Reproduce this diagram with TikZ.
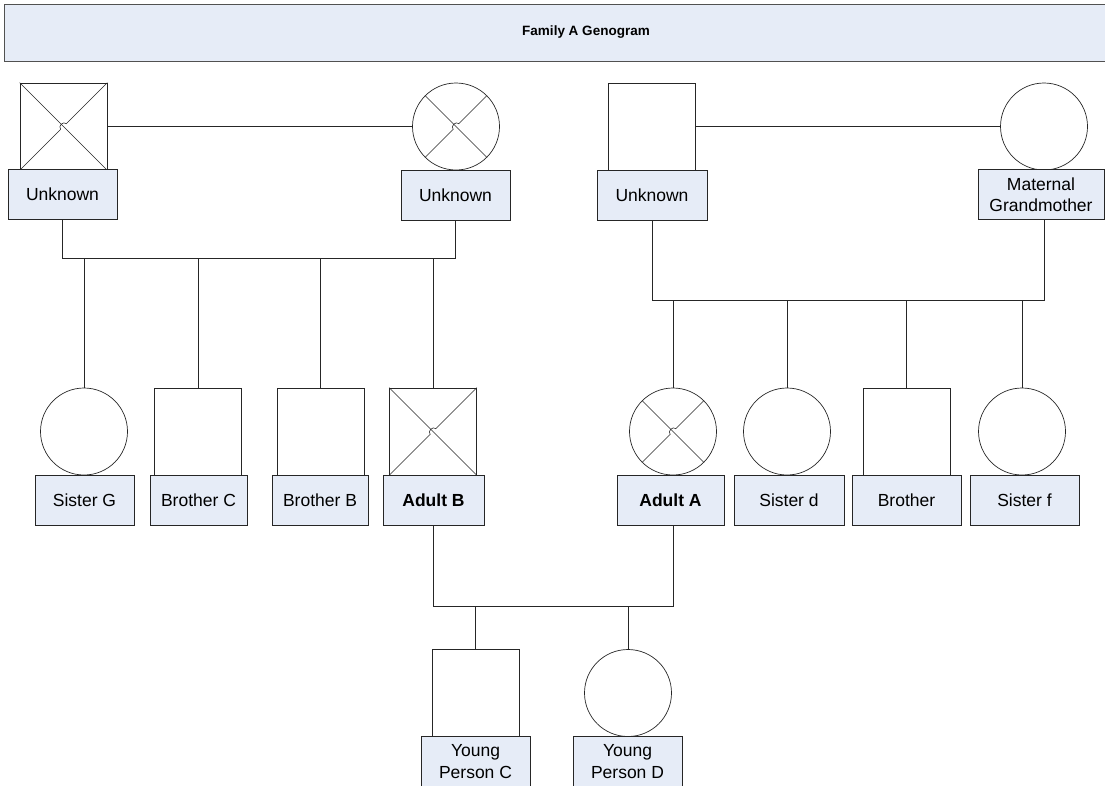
\documentclass[tikz,border=0pt]{standalone}
\usepackage{fontspec}
\setmainfont{Liberation Sans}
\usetikzlibrary{calc}
\definecolor{lblue}{HTML}{E6ECF7}
\definecolor{lncol}{HTML}{262626}
\tikzset{
  ln/.style={draw=lncol, line width=0.8pt},
  lbl/.style={draw=lncol, line width=0.8pt, fill=lblue, minimum height=50pt,
    inner sep=0pt, align=center, font=\fontsize{17.5}{21.5}\selectfont},
  male/.style={draw=lncol, rectangle, minimum size=87pt, inner sep=0pt, line width=0.7pt},
  female/.style={draw=lncol, circle, minimum size=87pt, inner sep=0pt, line width=0.7pt},
  xline/.style={draw=lncol, line width=0.6pt},
  titlebox/.style={draw=lncol!80, line width=0.9pt, fill=lblue, inner sep=0pt,
    font=\bfseries\fontsize{13.5}{16}\selectfont},
}
\newcommand\hopcross[1]{%
  \draw[xline] (#1.north west) -- (#1.south east);
  \draw[xline] (#1.south west) -- ($(#1.center)+(-2.8pt,-2.8pt)$)
    .. controls ($(#1.center)+(-6pt,0pt)$) and ($(#1.center)+(0pt,6pt)$) ..
    ($(#1.center)+(2.8pt,2.8pt)$) -- (#1.north east);
}
\begin{document}
\begin{tikzpicture}[x=1pt,y=-1pt]
\useasboundingbox (0,0) rectangle (1105,785);

% title
\node[titlebox, minimum width=1164pt, minimum height=57pt] (title) at (586,32.5) {Family A Genogram};

% top generation shapes
\node[male] (pgf) at (63.5,126.5) {};
\node[female] (pgm) at (456,126.5) {};
\node[male] (mgf) at (652,126.5) {};
\node[female] (mgm) at (1044,126.5) {};
\hopcross{pgf}
\hopcross{pgm}

\node[lbl, minimum width=109pt] (lpgf) at (62.5,194.5) {Unknown};
\node[lbl, minimum width=109pt] (lpgm) at (455.5,195) {Unknown};
\node[lbl, minimum width=110pt] (lmgf) at (652,195) {Unknown};
\node[lbl, minimum width=126pt] (lmgm) at (1041,194.5) {Maternal\\Grandmother};

% couple lines
\draw[ln] (pgf.east) -- (pgm.west);
\draw[ln] (mgf.east) -- (mgm.west);

% second generation shapes
\node[female] (sG) at (84,431.5) {};
\node[male] (bC) at (198,431.5) {};
\node[male] (bB) at (320.5,431.5) {};
\node[male] (aB) at (433,431.5) {};
\node[female] (aA) at (673,431.5) {};
\node[female] (sd) at (787,431.5) {};
\node[male] (br) at (906.5,431.5) {};
\node[female] (sf) at (1022,431.5) {};
\hopcross{aB}
\hopcross{aA}

\node[lbl, minimum width=99pt] (lsG) at (84.5,500) {Sister G};
\node[lbl, minimum width=97pt] (lbC) at (198.5,500) {Brother C};
\node[lbl, minimum width=96pt] (lbB) at (320,500) {Brother B};
\node[lbl, minimum width=101pt] (laB) at (433.5,500) {\bfseries Adult B};
\node[lbl, minimum width=107pt] (laA) at (670.5,500) {\bfseries Adult A};
\node[lbl, minimum width=110pt] (lsd) at (789,500) {Sister d};
\node[lbl, minimum width=109pt] (lbr) at (906.5,500) {Brother};
\node[lbl, minimum width=109pt] (lsf) at (1024.5,500) {Sister f};

% third generation
\node[male] (yC) at (475.5,692.5) {};
\node[female] (yD) at (628,693) {};
\node[lbl, minimum width=109pt, minimum height=51pt] (lyC) at (475.5,761.5) {Young\\Person C};
\node[lbl, minimum width=109pt, minimum height=51pt] (lyD) at (627.5,761.5) {Young\\Person D};

% sibling bars
\coordinate (bar1) at (0,258);
\coordinate (bar2) at (0,300);
\coordinate (bar3) at (0,606);

\draw[ln] (lpgf.south) -- (lpgf.south |- bar1) -- (lpgm.south |- bar1) -- (lpgm.south);
\foreach \c in {sG,bC,bB,aB}{\draw[ln] (\c.north |- bar1) -- (\c.north);}

\draw[ln] (lmgf.south) -- (lmgf.south |- bar2) -- (mgm.south |- bar2) -- (mgm.south |- lmgm.south);
\foreach \c in {aA,sd,br,sf}{\draw[ln] (\c.north |- bar2) -- (\c.north);}

\draw[ln] (laB.south) -- (laB.south |- bar3) -- (aA.south |- bar3) -- (aA.south |- laA.south);
\foreach \c in {yC,yD}{\draw[ln] (\c.north |- bar3) -- (\c.north);}
\end{tikzpicture}
\end{document}
